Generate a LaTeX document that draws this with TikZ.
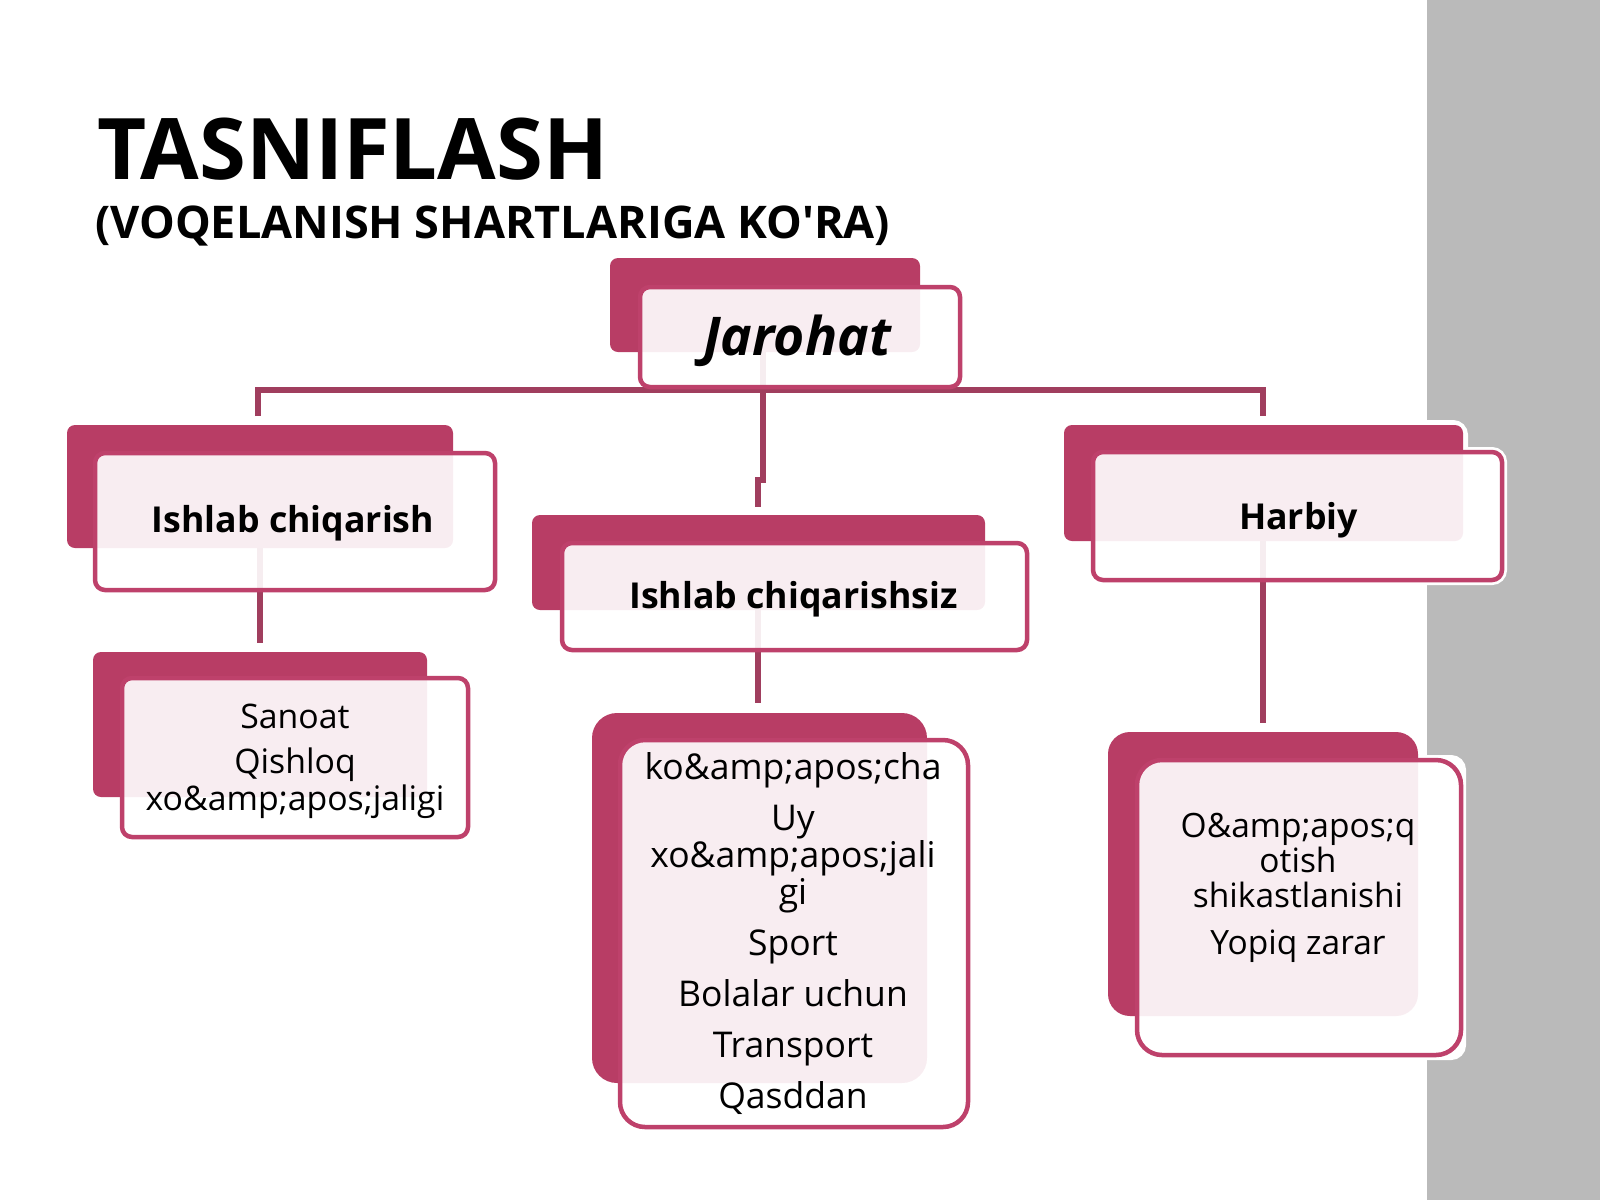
\documentclass[tikz,border=0pt]{standalone}
\usepackage{fontspec}
\setmainfont{Open Sans}[Ligatures=TeXOff]
\usetikzlibrary{backgrounds}
\definecolor{backc}{RGB}{184,61,101}
\definecolor{borderc}{RGB}{190,65,107}
\definecolor{connc}{RGB}{160,62,94}
\definecolor{panelc}{RGB}{186,186,186}
\tikzset{
  backbox/.style={fill=backc, rounded corners=8pt},
  halo/.style={draw=white, fill=white, line width=10pt, rounded corners=10pt},
  frontbox/.style={draw=borderc, line width=4.5pt, fill=white, fill opacity=0.91, rounded corners=10pt, inner sep=0pt},
  conn/.style={draw=connc, line width=6pt},
  headlbl/.style={font=\fontsize{35.7}{40}\selectfont\bfseries, inner sep=0pt, anchor=base},
  bodylbl/.style={font=\fontsize{33.8}{37}\selectfont, align=center, inner sep=0pt, anchor=base},
}
\begin{document}
\begin{tikzpicture}[x=1pt,y=-1pt]
\useasboundingbox (0,0) rectangle (1600,1200);

% title
\node[font=\fontsize{85}{90}\selectfont\bfseries, inner sep=0pt, anchor=base west] (title) at (97,179) {TASNIFLASH};
\node[font=\fontsize{45}{50}\selectfont\bfseries, inner sep=0pt, anchor=base west] (subtitle) at (95,238) {(VOQELANISH SHARTLARIGA KO'RA)};

% Jarohat
\fill[backbox] (610,258) rectangle (920,352);
\node[frontbox, minimum width=320pt, minimum height=100pt] (j) at (800,337) {};
\node[headlbl, font=\fontsize{53.4}{60}\selectfont\bfseries\itshape] (jt) at (797,355) {Jarohat};

% Ishlab chiqarish
\fill[backbox] (67,425) rectangle (453,548);
\node[frontbox, minimum width=400pt, minimum height=137pt] (is) at (295,521.5) {};
\node[headlbl] (ist) at (293,532) {Ishlab chiqarish};

% Ishlab chiqarishsiz
\fill[backbox] (532,515) rectangle (985,610);
\node[frontbox, minimum width=465pt, minimum height=107pt] (isz) at (794.5,596.5) {};
\node[headlbl] (iszt) at (793.5,608) {Ishlab chiqarishsiz};

% Harbiy
\fill[backbox] (1064,425) rectangle (1463,541);
\node[frontbox, minimum width=409pt, minimum height=128pt] (hb) at (1297.5,516) {};
\node[headlbl] (hbt) at (1298.5,529) {Harbiy};

% Sanoat box
\fill[backbox] (93,652) rectangle (427,797);
\node[frontbox, minimum width=346pt, minimum height=159pt] (s1) at (295,757.5) {};
\node[bodylbl] (s1t) at (295,810) {Sanoat\\[8pt]Qishloq\\xo\&amp;apos;jaligi};

% middle bottom box
\fill[backbox, rounded corners=25pt] (592,713) rectangle (927,1083);
\node[frontbox, rounded corners=25pt, minimum width=348pt, minimum height=387pt] (s2) at (794,933.5) {};
\node[bodylbl, font=\fontsize{35.5}{37}\selectfont] (s2t) at (793,1108) {ko\&amp;apos;cha\\[14pt]Uy\\xo\&amp;apos;jali\\gi\\[14pt]Sport\\[14pt]Bolalar uchun\\[14pt]Transport\\[14pt]Qasddan};

% Harbiy bottom box
\fill[backbox, rounded corners=22pt] (1108,732) rectangle (1418,1016);
\node[frontbox, rounded corners=25pt, minimum width=324pt, minimum height=295pt] (s3) at (1299,907.5) {};
\node[bodylbl, font=\fontsize{33.5}{35}\selectfont] (s3t) at (1298,954) {O\&amp;apos;q\\otish\\shikastlanishi\\[12pt]Yopiq zarar};

\begin{pgfonlayer}{background}
  \fill[panelc] (1427,0) rectangle (1600,1200);
  \path[halo] (1064,425) rectangle (1463,541);
  \path[halo] (1093,452) rectangle (1502,580);
  \path[halo] (1108,732) rectangle (1418,1016);
  \path[halo] (1137,760) rectangle (1461,1055);
  % connectors
  \coordinate (hub) at (763,390);
  \coordinate (barL) at (258,416);
  \coordinate (barR) at (1263,416);
  \coordinate (drop) at (758,507);
  \coordinate (c1) at (260,643);
  \coordinate (c2) at (758,703);
  \coordinate (c3) at (1263,723);
  \draw[conn] (barL) |- (hub) -| (barR);
  \draw[conn] (hub |- j.center) -- (hub) -- ++(0,90) -| (drop);
  \draw[conn] (c1 |- is.center) -- (c1);
  \draw[conn] (c2 |- isz.center) -- (c2);
  \draw[conn] (c3 |- hb.center) -- (c3);
\end{pgfonlayer}
\end{tikzpicture}
\end{document}
